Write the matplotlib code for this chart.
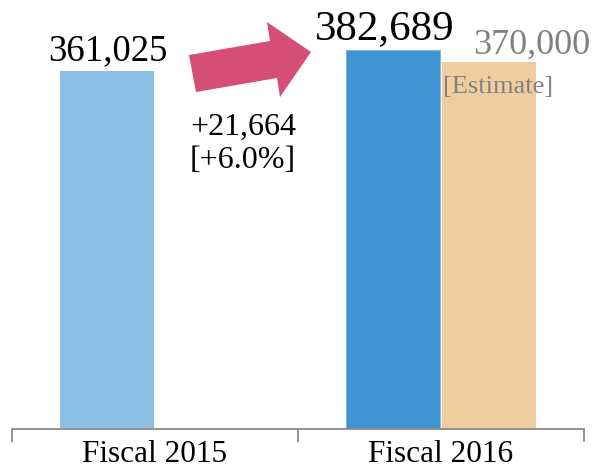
import matplotlib.pyplot as plt
from matplotlib.patches import Polygon

categories = ["Fiscal 2015", "Fiscal 2016"]
actual = [361025, 382689]
estimate = [None, 370000]
diff_label = "+21,664\n[+6.0%]"

plt.rcParams['font.family'] = ['Liberation Serif', 'DejaVu Serif']

fig = plt.figure(figsize=(5.96, 4.70), dpi=100)
ax = fig.add_axes([12 / 596, 1 - 429 / 470, 572 / 596, 429 / 470])

w = 0.329
pos = [0.5, 1.5]
ax.bar(pos[0] - w / 2 - 0.0035, actual[0], width=w, color="#8BBFE3", edgecolor="none")
ax.bar(pos[1] - w / 2 - 0.0035, actual[1], width=w, color="#3D94D1", edgecolor="#7DB8E3", linewidth=0.8)
ax.bar(pos[1] + w / 2 + 0.0035, estimate[1], width=w, color="#F0CD9E", edgecolor="none")

ax.set_xlim(0, 2)
ax.set_ylim(0, 433000)
for s in ["top", "right", "left"]:
    ax.spines[s].set_visible(False)
ax.spines["bottom"].set_color("#8A8A8A")
ax.spines["bottom"].set_linewidth(1.3)
ax.set_yticks([])
ax.set_xticks([0, 1, 2], minor=False)
ax.set_xticklabels([])
ax.tick_params(axis="x", which="major", length=9, width=1.3, color="#8A8A8A")
ax.set_xticks(pos, minor=True)
ax.set_xticklabels(categories, minor=True, fontsize=22.5)
ax.tick_params(axis="x", which="minor", length=0, pad=8)

ax.text(pos[0] - w / 2, actual[0] + 11300, f"{actual[0]:,}", ha="center", va="baseline", fontsize=26.5)
ax.text(1.304, actual[1] + 10800, f"{actual[1]:,}", ha="center", va="baseline", fontsize=31)
ax.text(1.818, estimate[1] + 8400, f"{estimate[1]:,}", ha="center", va="baseline",
        fontsize=26, color="#808080")
ax.text(1.507, estimate[1] - 31000, "[Estimate]", ha="left", va="baseline",
        fontsize=19, color="#808080")
ax.text(0.622, 263300, diff_label, ha="left", va="baseline", fontsize=23, linespacing=1.2)

arrow_px = [(196, 92), (189, 55), (270, 41), (267, 22), (311, 52), (280, 97), (277, 78)]
arrow = Polygon([(x / 596, 1 - y / 470) for x, y in arrow_px], closed=True,
                transform=fig.transFigure, facecolor="#D64D78", edgecolor="none")
fig.patches.append(arrow)

fig.savefig("out.png", dpi=100)
